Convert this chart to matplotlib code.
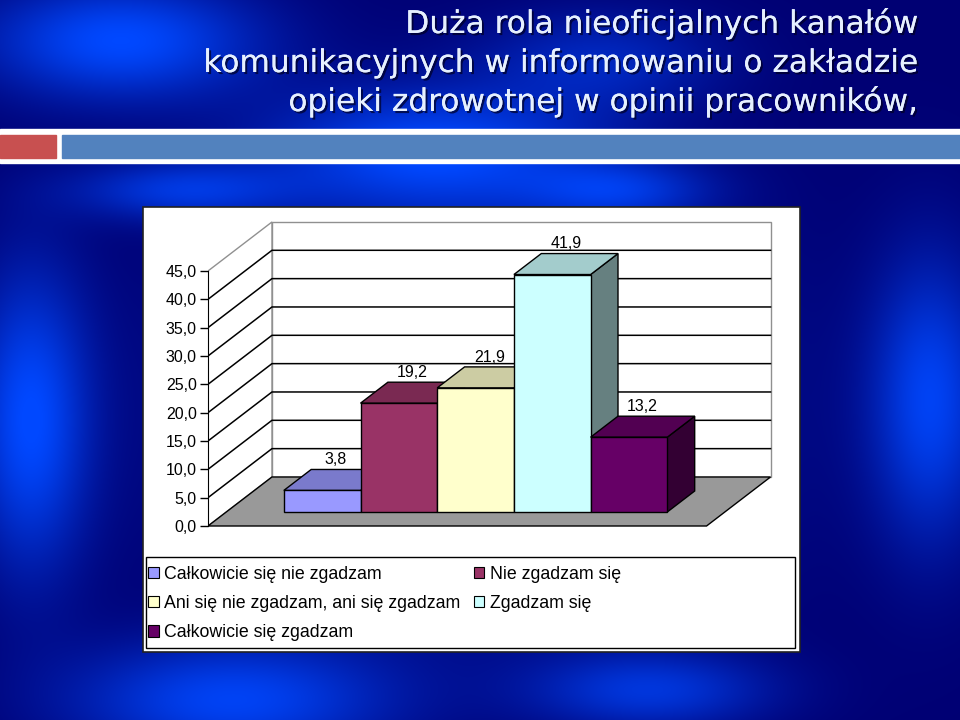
import numpy as np
import matplotlib
matplotlib.use("Agg")
import matplotlib.pyplot as plt
from matplotlib.patches import Polygon, Rectangle, Patch
from matplotlib import patheffects

# data
categories = ["Całkowicie się nie zgadzam", "Nie zgadzam się",
              "Ani się nie zgadzam, ani się zgadzam", "Zgadzam się",
              "Całkowicie się zgadzam"]
values = [3.8, 19.2, 21.9, 41.9, 13.2]
colors = ["#9999FF", "#993366", "#FFFFCC", "#CCFFFF", "#660066"]
yticks = [0, 5, 10, 15, 20, 25, 30, 35, 40, 45]
title_lines = ["Duża rola nieoficjalnych kanałów",
               "komunikacyjnych w informowaniu o zakładzie",
               "opieki zdrowotnej w opinii pracowników,"]

W, H = 960, 720
fig = plt.figure(figsize=(9.6, 7.2), dpi=100)


def fig_box(x0, y0, x1, y1):  # pixel box (top-left origin) -> figure fraction rect
    return [x0 / W, 1 - y1 / H, (x1 - x0) / W, (y1 - y0) / H]


def shade(c, k):
    r, g, b = matplotlib.colors.to_rgb(c)
    return (r * k, g * k, b * k)


# background: blue with brighter streaks
bg = fig.add_axes([0, 0, 1, 1], zorder=-10)
yy, xx = np.mgrid[0:H, 0:W]
blobs = [(120, 40, 140, 60, 1.0), (430, 150, 160, 60, 0.9), (30, 420, 60, 150, 1.0),
         (930, 400, 60, 140, 0.9), (230, 700, 160, 60, 0.9), (650, 690, 120, 40, 0.7),
         (480, 400, 250, 200, 0.6), (600, 60, 120, 50, 0.5), (180, 190, 110, 30, 0.7),
         (620, 190, 90, 30, 0.6)]
b = np.zeros((H, W))
for cx, cy, sx, sy, a in blobs:
    b += a * np.exp(-((xx - cx) / sx) ** 2 - ((yy - cy) / sy) ** 2)
b = np.clip(b, 0, 1)[..., None]
dark = np.array([0, 0, 115]) / 255
bright = np.array([0, 72, 255]) / 255
bg.imshow(dark + b * (bright - dark), extent=(0, W, H, 0), aspect="auto")
bg.set_xlim(0, W)
bg.set_ylim(H, 0)
bg.axis("off")

# title bar
bg.add_patch(Rectangle((0, 129), W, 34, color="white"))
bg.add_patch(Rectangle((0, 135), 56, 23, color="#C85050"))
bg.add_patch(Rectangle((62, 135), W - 62, 23, color="#5282BE"))
shadow = [patheffects.withSimplePatchShadow(offset=(1.5, -1.5), shadow_rgbFace="#000022", alpha=0.7),
          patheffects.Normal()]
for k, line in enumerate(title_lines):
    bg.text(918, 33 + 39 * k, line, ha="right", va="baseline", fontsize=22.5,
            color="#E6F0FF", family="DejaVu Sans", path_effects=shadow)

# white chart panel and legend box
bg.add_patch(Rectangle((143, 207), 657, 445, facecolor="white", edgecolor="#222222", lw=1.2))
bg.add_patch(Rectangle((146, 557), 649, 91, facecolor="white", edgecolor="black", lw=1))

# 3d-looking column chart
ax = fig.add_axes(fig_box(208, 215, 780, 530))
ax.set_xlim(0, 572 / 76.7)
ax.set_ylim(-4 / 5.667, 311 / 5.667)
ax.patch.set_alpha(0)
DX, DY = 0.834, 8.65   # depth offset in data units
FW = 6.5               # floor width
YMAX = yticks[-1]
f0, f1 = 0.286, 0.714  # bar front/back depth fraction

# walls
ax.add_patch(Polygon([(DX, DY), (FW + DX, DY), (FW + DX, YMAX + DY), (DX, YMAX + DY)],
                     facecolor="white", edgecolor="#909090", lw=1, zorder=1))
ax.add_patch(Polygon([(0, 0), (DX, DY), (DX, YMAX + DY), (0, YMAX)],
                     facecolor="white", edgecolor="#909090", lw=1, zorder=1))
for v in yticks[1:-1]:
    ax.plot([0, DX, FW + DX], [v, v + DY, v + DY], color="black", lw=1.1, zorder=2)
# floor
ax.add_patch(Polygon([(0, 0), (FW, 0), (FW + DX, DY), (DX, DY)],
                     facecolor="#999999", edgecolor="black", lw=1, zorder=3))

for i, (v, c) in enumerate(zip(values, colors)):
    x0 = (FW - len(values)) / 2 + i + f0 * DX
    y0 = f0 * DY
    dx, dy = (f1 - f0) * DX, (f1 - f0) * DY
    z = 4 + i
    ax.add_patch(Polygon([(x0 + 1, y0), (x0 + 1 + dx, y0 + dy), (x0 + 1 + dx, y0 + v + dy), (x0 + 1, y0 + v)],
                         facecolor=shade(c, 0.5), edgecolor="black", lw=1, zorder=z))
    ax.add_patch(Polygon([(x0, y0 + v), (x0 + 1, y0 + v), (x0 + 1 + dx, y0 + v + dy), (x0 + dx, y0 + v + dy)],
                         facecolor=shade(c, 0.8), edgecolor="black", lw=1, zorder=z))
    ax.add_patch(Rectangle((x0, y0), 1, v, facecolor=c, edgecolor="black", lw=1, zorder=z))
    ax.text(x0 + 0.5 + dx / 2, y0 + v + dy + 0.4, f"{v:.1f}".replace(".", ","),
            ha="center", va="bottom", fontsize=11.5, family="Liberation Sans", zorder=20)

for s in ["top", "right", "bottom"]:
    ax.spines[s].set_visible(False)
ax.spines["left"].set_bounds(0, YMAX)
ax.spines["left"].set_zorder(10)
ax.set_xticks([])
ax.set_yticks(yticks)
ax.set_yticklabels([f"{t:.1f}".replace(".", ",") for t in yticks],
                   fontsize=11.5, family="Liberation Sans")
ax.tick_params(axis="y", direction="out", length=6, width=1, pad=2)

# legend, filled row by row like the original
handles = [Patch(facecolor=c, edgecolor="black", lw=0.8) for c in colors]
order = [0, 2, 4, 1, 3]
fig.legend([handles[k] for k in order], [categories[k] for k in order], ncol=2,
           loc="upper left", bbox_to_anchor=(148 / W, 1 - 566 / H), frameon=False,
           prop={"family": "Liberation Sans", "size": 12.8},
           handlelength=0.6, handleheight=0.6, handletextpad=0.3,
           columnspacing=0.75, labelspacing=0.68, borderpad=0, borderaxespad=0)

fig.savefig("out.png", dpi=100)
